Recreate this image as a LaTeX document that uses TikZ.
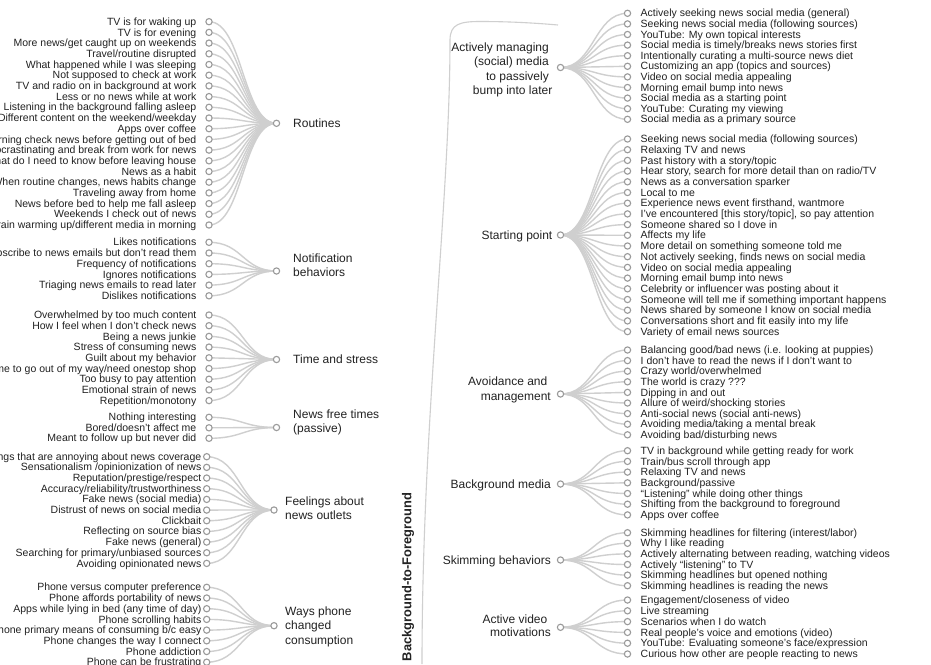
\documentclass[tikz,border=0pt]{standalone}
\usepackage{fontspec}
\setmainfont{Liberation Sans}
\usetikzlibrary{calc}
\pgfdeclarelayer{back}
\pgfdeclarelayer{bg}
\pgfsetlayers{back,bg,main}
\definecolor{txt}{HTML}{222222}
\definecolor{lnk}{HTML}{CFCFCF}
\definecolor{circ}{HTML}{9A9A9A}
\tikzset{
 dot/.style={circle, draw=circ, fill=white, line width=1.1pt, minimum size=6.3pt, inner sep=0pt},
 link/.style={draw=lnk, line width=1.4pt},
 trunk/.style={draw=lnk, line width=1.1pt},
 leaft/.style={font=\fontsize{10.5}{12}\selectfont, text=txt, inner sep=0pt},
 labt/.style={font=\fontsize{12}{14}\selectfont, text=txt, inner sep=0pt},
 vlab/.style={font=\bfseries\fontsize{12.9}{14}\selectfont, text=txt, inner sep=0pt, rotate=90},
}
% #1 id, #2 leaf x, #3 parent x, #4 first y, #5 step, #6 parent y, #7 text x, #8 list
\newcommand\lgrp[8]{%
 \node[dot] (#1) at (#3,#6) {};
 \coordinate (#1m) at ({(#2+#3)/2},#6);
 \foreach \tx [count=\i] in {#8} {
   \pgfmathsetmacro\yy{#4+(\i-1)*#5}
   \node[dot] (#1l\i) at (#2,\yy) {};
   \node[leaft, anchor=base east] (#1t\i) at (#7,\yy+3.6) {\tx};
   \begin{pgfonlayer}{bg}
   \draw[link] (#1l\i.center) .. controls (#1m |- #1l\i) and (#1m) .. (#1.center);
   \end{pgfonlayer}
 }
}
\newcommand\rgrp[8]{%
 \node[dot] (#1) at (#3,#6) {};
 \coordinate (#1m) at ({(#2+#3)/2},#6);
 \foreach \tx [count=\i] in {#8} {
   \pgfmathsetmacro\yy{#4+(\i-1)*#5}
   \node[dot] (#1l\i) at (#2,\yy) {};
   \node[leaft, anchor=base west] (#1t\i) at (#7,\yy+3.6) {\tx};
   \begin{pgfonlayer}{bg}
   \draw[link] (#1.center) .. controls (#1m) and (#1m |- #1l\i) .. (#1l\i.center);
   \end{pgfonlayer}
 }
}
\begin{document}
\begin{tikzpicture}[x=1pt,y=-1pt]
\useasboundingbox (0,0) rectangle (931,664);
\clip (0,0) rectangle (931,664);
\begin{pgfonlayer}{back}
\fill[white] (0,0) rectangle (931,664);
\end{pgfonlayer}

% ---------- left column ----------
\lgrp{A}{209}{276.5}{21.7}{10.7}{123.3}{196.5}{{TV is for waking up},{TV is for evening},{More news/get caught up on weekends},{Travel/routine disrupted},{What happened while I was sleeping},{Not supposed to check at work},{TV and radio on in background at work},{Less or no news while at work},{Listening in the background falling asleep},{Different content on the weekend/weekday},{Apps over coffee},{Morning check news before getting out of bed},{Procrastinating and break from work for news},{What do I need to know before leaving house},{News as a habit},{When routine changes, news habits change},{Traveling away from home},{News before bed to help me fall asleep},{Weekends I check out of news},{Brain warming up/different media in morning}}
\lgrp{B}{209}{276.5}{242.3}{10.7}{271}{196.5}{{Likes notifications},{Subscribe to news emails but don’t read them},{Frequency of notifications},{Ignores notifications},{Triaging news emails to read later},{Dislikes notifications}}
\lgrp{C}{209}{276.5}{315}{10.7}{359.5}{196.5}{{Overwhelmed by too much content},{How I feel when I don’t check news},{Being a news junkie},{Stress of consuming news},{Guilt about my behavior},{No time to go out of my way/need onestop shop},{Too busy to pay attention},{Emotional strain of news},{Repetition/monotony}}
\lgrp{D}{209}{276.5}{417.3}{10.5}{427.5}{196.5}{{Nothing interesting},{Bored/doesn’t affect me},{Meant to follow up but never did}}
\lgrp{E}{206.7}{274}{456.7}{10.67}{510}{201.5}{{Things that are annoying about news coverage},{Sensationalism /opinionization of news},{Reputation/prestige/respect},{Accuracy/reliability/trustworthiness},{Fake news (social media)\ },{Distrust of news on social media},{Clickbait\ },{Reflecting on source bias\ },{Fake news (general)\ },{Searching for primary/unbiased sources},{Avoiding opinionated news\ }}
\lgrp{F}{206.7}{274}{587.3}{10.7}{625.7}{201.5}{{Phone versus computer preference\ },{Phone affords portability of news\ },{Apps while lying in bed (any time of day)},{Phone scrolling habits\ },{Phone primary means of consuming b/c easy},{Phone changes the way I connect},{Phone addiction\ },{Phone can be frustrating\ }}

\node[labt, anchor=base west] (Alab) at (293,127.5) {Routines};
\node[labt, anchor=base west] (Blab1) at (293,262.5) {Notification};
\node[labt, anchor=base west] (Blab2) at (293,276) {behaviors};
\node[labt, anchor=base west] (Clab) at (293,363.7) {Time and stress};
\node[labt, anchor=base west] (Dlab1) at (293,418.2) {News free times};
\node[labt, anchor=base west] (Dlab2) at (293,432.2) {(passive)};
\node[labt, anchor=base west] (Elab1) at (285,505.2) {Feelings about};
\node[labt, anchor=base west] (Elab2) at (285,519.2) {news outlets};
\node[labt, anchor=base west] (Flab1) at (285,615.9) {Ways phone};
\node[labt, anchor=base west] (Flab2) at (285,629.9) {changed};
\node[labt, anchor=base west] (Flab3) at (285,644.2) {consumption};

% ---------- trunk ----------
\coordinate (bfa) at (422,664);
\coordinate (bfb) at (558,25);
\begin{pgfonlayer}{bg}
\draw[trunk] (bfa) .. controls (422,420) and (450,200) .. (450,40)
  .. controls (450,24) and (460,21.5) .. (480,21.5)
  .. controls (510,21.5) and (535,23) .. (bfb);
\end{pgfonlayer}
\node[vlab] (bf) at (408,577) {Background-to-Foreground};

% ---------- right column ----------
\rgrp{G}{627.5}{560.5}{13.3}{10.6}{67.5}{640.5}{{Actively seeking news social media (general)},{Seeking news social media (following sources)},{YouTube: My own topical interests},{Social media is timely/breaks news stories first},{Intentionally curating a multi-source news diet},{Customizing an app (topics and sources)},{Video on social media appealing},{Morning email bump into news},{Social media as a starting point},{YouTube: Curating my viewing},{Social media as a primary source}}
\rgrp{H}{627.5}{560.5}{139}{10.7}{235}{640.5}{{Seeking news social media (following sources)},{Relaxing TV and news},{Past history with a story/topic},{Hear story, search for more detail than on radio/TV},{News as a conversation sparker},{Local to me},{Experience news event firsthand, wantmore},{I’ve encountered [this story/topic], so pay attention},{Someone shared so I dove in},{Affects my life},{More detail on something someone told me},{Not actively seeking, finds news on social media},{Video on social media appealing},{Morning email bump into news},{Celebrity or influencer was posting about it},{Someone will tell me if something important happens},{News shared by someone I know on social media},{Conversations short and fit easily into my life},{Variety of email news sources}}
\rgrp{I}{627.5}{560.5}{350}{10.6}{394}{640.5}{{Balancing good/bad news (i.e. looking at puppies)},{I don’t have to read the news if I don’t want to},{Crazy world/overwhelmed},{The world is crazy ???},{Dipping in and out},{Allure of weird/shocking stories},{Anti-social news (social anti-news)},{Avoiding media/taking a mental break},{Avoiding bad/disturbing news}}
\rgrp{J}{627.5}{560.5}{450.7}{10.7}{484}{640.5}{{TV in background while getting ready for work},{Train/bus scroll through app},{Relaxing TV and news},{Background/passive},{“Listening” while doing other things},{Shifting from the background to foreground},{Apps over coffee}}
\rgrp{K}{627.5}{560.5}{532.7}{10.6}{560}{640.5}{{Skimming headlines for filtering (interest/labor)},{Why I like reading},{Actively alternating between reading, watching videos},{Actively “listening” to TV},{Skimming headlines but opened nothing},{Skimming headlines is reading the news}}
\rgrp{L}{627.5}{560.5}{600}{10.8}{627.3}{640.5}{{Engagement/closeness of video},{Live streaming},{Scenarios when I do watch},{Real people’s voice and emotions (video)},{YouTube: Evaluating someone’s face/expression},{Curious how other are people reacting to news}}

\node[labt, anchor=base east] (Glab1) at (549,51.2) {Actively managing};
\node[labt, anchor=base east] (Glab2) at (549,65.7) {(social) media};
\node[labt, anchor=base east] (Glab3) at (549,80.2) {to passively};
\node[labt, anchor=base east] (Glab4) at (552.5,94.7) {bump into later};
\node[labt, anchor=base east] (Hlab) at (552.5,239.2) {Starting point};
\node[labt, anchor=base east] (Ilab1) at (547.5,385.9) {Avoidance and};
\node[labt, anchor=base east] (Ilab2) at (551,400.2) {management};
\node[labt, anchor=base east] (Jlab) at (551,488.2) {Background media};
\node[labt, anchor=base east] (Klab) at (551,564.2) {Skimming behaviors};
\node[labt, anchor=base east] (Llab1) at (547.5,623.2) {Active video};
\node[labt, anchor=base east] (Llab2) at (551,636.9) {motivations};
\end{tikzpicture}
\end{document}
